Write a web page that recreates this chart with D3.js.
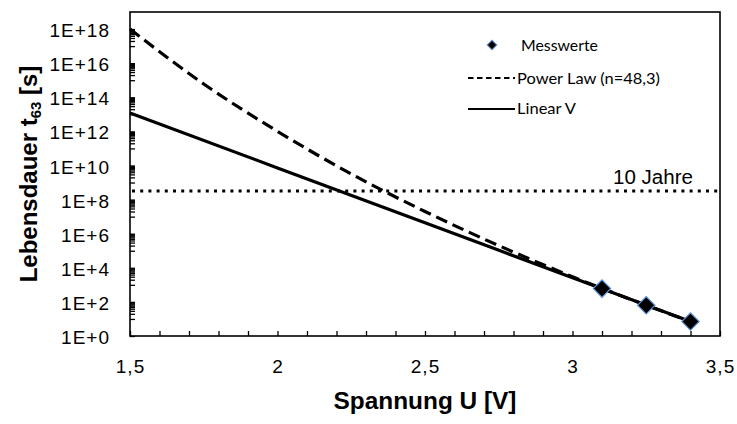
<!DOCTYPE html>
<html lang="de">
<head>
<meta charset="UTF-8">
<title>Lebensdauer vs Spannung</title>
<script src="https://cdn.jsdelivr.net/npm/d3@7"></script>
<style>
  body { margin: 0; background: #fff; }
  svg text { font-family: Arial, "Liberation Sans", sans-serif; fill: #000; }
  .legend text { font-family: Lato, "Open Sans", sans-serif; }
</style>
</head>
<body>
<script>
// measured values (Messwerte)
var messU = [3.1, 3.25, 3.4];
var messT = [600, 63, 7];

// power law fit (n=48,3)
var powerU = [1.5, 1.75, 2.0, 2.25, 2.5, 2.75, 3.0, 3.25, 3.4];
var powerT = [1e18, 6e14, 1e12, 3.2e9, 2e7, 2e5, 3e3, 63, 7];

// linear V fit
var linearU = [1.5, 2.0, 2.5, 3.0, 3.4];
var linearT = [1.2e13, 7.2e9, 4.4e6, 2.6e3, 7];

var zehnJahre = 3.15e8; // 10 years in seconds

var xTicks = [1.5, 2, 2.5, 3, 3.5];
var yExp = [0, 2, 4, 6, 8, 10, 12, 14, 16, 18];

var w = 737, h = 424;
// careful: "top" is a window property, so use other names
var mLeft = 130, mRight = 720, mTop = 12, mBottom = 336;

var svg = d3.select('body').append('svg')
  .attr('width', w)
  .attr('height', h);

var x = d3.scaleLinear().domain([1.5, 3.5]).range([mLeft, mRight]);
var y = d3.scaleLog().domain([1, 1e19]).range([mBottom, mTop]);

// minor ticks: every 0.1 V on x
var xMinor = d3.range(15, 36).map(d => d / 10);
// y minor ticks at 10,20,...,90 times each labelled power
var yMinor = [];
yExp.forEach(function (e) {
  for (var j = 1; j <= 9; j++) yMinor.push(j * Math.pow(10, e + 1));
});
yMinor = yMinor.filter(d => d < 1e19);

var xAxis = d3.axisBottom(x)
  .tickValues(xMinor)
  .tickSize(-5)
  .tickPadding(24)
  .tickFormat(d => xTicks.some(t => Math.abs(t - d) < 1e-9) ? String(d).replace('.', ',') : '');

svg.append('g')
  .attr('class', 'x axis')
  .attr('transform', 'translate(0,' + mBottom + ')')
  .call(xAxis);

var yAxis = d3.axisLeft(y)
  .tickValues(yExp.map(e => Math.pow(10, e)))
  .tickSize(-5)
  .tickPadding(20)
  .tickFormat(d => '1E+' + Math.round(Math.log10(d)));

svg.append('g')
  .attr('class', 'y axis')
  .attr('transform', 'translate(' + mLeft + ',0)')
  .call(yAxis);

svg.append('g')
  .attr('class', 'y minor')
  .attr('transform', 'translate(' + mLeft + ',0)')
  .call(d3.axisLeft(y).tickValues(yMinor).tickSize(-5).tickFormat(''));

svg.selectAll('.axis text')
  .attr('font-size', '19px')
  .attr('letter-spacing', '1px')
  .attr('fill', '#000');
svg.selectAll('.y.axis text').attr('transform', 'translate(0,1.5)');
svg.selectAll('.domain').remove();
svg.selectAll('.tick line').attr('stroke', '#000').attr('stroke-width', 1.3);

// plot frame
svg.append('rect')
  .attr('x', mLeft)
  .attr('y', mTop)
  .attr('width', mRight - mLeft)
  .attr('height', mBottom - mTop)
  .attr('fill', 'none')
  .attr('stroke', '#000')
  .attr('stroke-width', 1.6);

// 10 Jahre line
svg.append('line')
  .attr('x1', mLeft + 2)
  .attr('x2', mRight - 2)
  .attr('y1', y(zehnJahre))
  .attr('y2', y(zehnJahre))
  .attr('stroke', '#000')
  .attr('stroke-width', 3)
  .attr('stroke-dasharray', '3,5.2');

svg.append('text')
  .attr('x', 693)
  .attr('y', 184)
  .attr('text-anchor', 'end')
  .attr('font-size', '19.5px')
  .attr('textLength', 80)
  .attr('lengthAdjust', 'spacingAndGlyphs')
  .text('10 Jahre');

var line = d3.line()
  .x(d => x(d[0]))
  .y(d => y(d[1]))
  .curve(d3.curveMonotoneX);

svg.append('path')
  .datum(d3.zip(powerU, powerT))
  .attr('d', line)
  .attr('fill', 'none')
  .attr('stroke', '#000')
  .attr('stroke-width', 3.2)
  .attr('stroke-dasharray', '12,6');

svg.append('path')
  .datum(d3.zip(linearU, linearT))
  .attr('d', line)
  .attr('fill', 'none')
  .attr('stroke', '#000')
  .attr('stroke-width', 3.2);

var diamond = d3.symbol().type(d3.symbolSquare);

svg.selectAll('.mess')
  .data(d3.zip(messU, messT))
  .enter()
  .append('path')
  .attr('class', 'mess')
  .attr('d', diamond.size(150))
  .attr('transform', d => 'translate(' + x(d[0]) + ',' + y(d[1]) + ') rotate(45)')
  .attr('fill', '#000')
  .attr('stroke', '#5b8fd0')
  .attr('stroke-width', 1.2);

// legend
var legend = svg.append('g').attr('class', 'legend');

legend.append('path')
  .attr('d', d3.symbol().type(d3.symbolSquare).size(45)())
  .attr('transform', 'translate(492,45) rotate(45)')
  .attr('fill', '#000')
  .attr('stroke', '#5b8fd0')
  .attr('stroke-width', 1);

legend.append('line')
  .attr('x1', 468).attr('x2', 515)
  .attr('y1', 78).attr('y2', 78)
  .attr('stroke', '#000')
  .attr('stroke-width', 2)
  .attr('stroke-dasharray', '5.5,3.5');

legend.append('line')
  .attr('x1', 468).attr('x2', 515)
  .attr('y1', 109).attr('y2', 109)
  .attr('stroke', '#000')
  .attr('stroke-width', 2);

var legendItems = [
  { text: 'Messwerte', x: 521, y: 51, len: 77 },
  { text: 'Power Law (n=48,3)', x: 517, y: 84, len: 143 },
  { text: 'Linear V', x: 517, y: 114, len: 59 }
];

legend.selectAll('text')
  .data(legendItems)
  .enter()
  .append('text')
  .attr('x', d => d.x)
  .attr('y', d => d.y)
  .attr('font-size', '15px')
  .attr('textLength', d => d.len)
  .attr('lengthAdjust', 'spacingAndGlyphs')
  .text(d => d.text);

// axis titles
svg.append('text')
  .attr('x', (mLeft + mRight) / 2)
  .attr('y', 409)
  .attr('text-anchor', 'middle')
  .attr('font-size', '24px')
  .attr('font-weight', 'bold')
  .attr('textLength', 183)
  .attr('lengthAdjust', 'spacingAndGlyphs')
  .text('Spannung U [V]');

var yTitle = svg.append('text')
  .attr('transform', 'translate(37,' + (mTop + mBottom) / 2 + ') rotate(-90)')
  .attr('text-anchor', 'middle')
  .attr('font-size', '24px')
  .attr('font-weight', 'bold');
yTitle.append('tspan').text('Lebensdauer t');
yTitle.append('tspan').attr('font-size', '15px').attr('dy', 4).text('63');
yTitle.append('tspan').attr('dy', -4).text(' [s]');
</script>
</body>
</html>
